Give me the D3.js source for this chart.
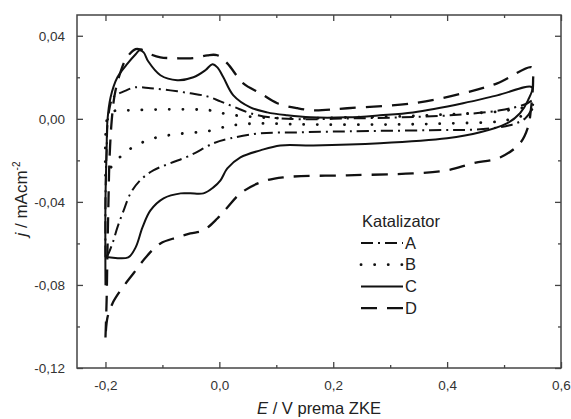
<!DOCTYPE html>
<html><head><meta charset="utf-8">
<script src="https://cdn.jsdelivr.net/npm/d3@7"></script>
<style>
body{margin:0;background:#fff;}
svg{display:block;font-family:"Liberation Sans",Arial,sans-serif;}
</style></head>
<body><svg id="c" width="571" height="419"></svg>
<script>
// ---- data (E / V vs ZKE, j / mA cm^-2) ----
const catalysts = ["A","B","C","D"];
const xTickValues = [-0.2,0.0,0.2,0.4,0.6];
const yTickValues = [-0.12,-0.08,-0.04,0.00,0.04];

// A (dash-dot)
const aE = [-0.2,-0.2,-0.198,-0.1947,-0.186,-0.1667,-0.147,-0.121,-0.086,-0.051,-0.021,0.0018,0.028,0.0544,0.0895,0.142,0.2298,0.3175,0.405,0.493,0.537,0.551,
            0.549,0.537,0.51,0.458,0.37,0.2298,0.142,0.072,0.0193,-0.0105,-0.051,-0.086,-0.116,-0.139,-0.156,-0.168,-0.179,-0.1877,-0.1965,-0.2];
const aJ = [-0.0667,-0.0393,-0.0152,0.0017,0.0104,0.0133,0.0152,0.0147,0.0137,0.0123,0.0108,0.0084,0.0055,0.0027,0.0007,-0.0002,0.0002,0.0007,0.0017,0.0041,0.007,0.0089,
            0.0051,0.0002,-0.0031,-0.005,-0.0055,-0.006,-0.0065,-0.007,-0.0094,-0.0118,-0.0176,-0.0214,-0.0248,-0.0296,-0.0359,-0.0441,-0.0523,-0.060,-0.0658,-0.0667];
// B (dotted)
const bE = [-0.2,-0.2,-0.1965,-0.186,-0.161,-0.0158,0.014,0.072,0.142,0.2298,0.3175,0.405,0.493,0.537,0.549,
            0.546,0.523,0.493,0.405,0.3175,0.142,0.072,0.037,0.014,-0.021,-0.063,-0.091,-0.116,-0.139,-0.165,-0.1877,-0.2];
const bJ = [-0.0272,-0.0104,0.0002,0.0036,0.0041,0.0041,0.0022,0.0007,0.0002,0.0007,0.0012,0.0022,0.0036,0.0055,0.006,
            0.0031,0.0007,-0.0012,-0.0022,-0.0027,-0.0027,-0.0022,-0.0027,-0.0036,-0.006,-0.007,-0.008,-0.0094,-0.0118,-0.0161,-0.0224,-0.0272];
// C (solid)
const cE = [-0.200,-0.200,-0.198,-0.1965,-0.191,-0.179,-0.161,-0.147,-0.140,-0.133,-0.125,-0.1035,-0.074,-0.0456,-0.0246,-0.0123,-0.0035,0.007,0.0246,0.0544,0.084,0.119,0.160,0.2246,0.282,0.340,0.428,0.488,0.549,
            0.542,0.528,0.505,0.458,0.400,0.282,0.165,0.107,0.072,0.037,0.014,0.002,-0.0105,-0.028,-0.051,-0.068,-0.098,-0.121,-0.135,-0.147,-0.160,-0.1947,-0.200];
const cJ = [-0.0802,-0.0393,-0.0152,-0.0007,0.0104,0.0200,0.0267,0.0311,0.0330,0.0320,0.0277,0.0210,0.0186,0.0200,0.0234,0.0263,0.0248,0.0200,0.0113,0.0055,0.0031,0.0017,0.0007,0.0007,0.0017,0.0031,0.0075,0.0113,0.0152,
            0.0089,0.0027,-0.0022,-0.0065,-0.0094,-0.0118,-0.0128,-0.0128,-0.0152,-0.0186,-0.0239,-0.0296,-0.0330,-0.0359,-0.0359,-0.0359,-0.0383,-0.0441,-0.0523,-0.0619,-0.0667,-0.0667,-0.0667];
// D (dashed)
const dE = [-0.2,-0.198,-0.1965,-0.1947,-0.193,-0.189,-0.184,-0.1754,-0.1632,-0.147,-0.138,-0.121,-0.1035,-0.077,-0.0456,-0.021,-0.0035,0.014,0.042,0.072,0.1018,0.137,0.165,0.2246,0.340,0.428,0.488,0.549,
            0.551,0.547,0.542,0.528,0.493,0.446,0.400,0.340,0.2246,0.112,0.072,0.037,0.014,-0.0035,-0.028,-0.051,-0.074,-0.1035,-0.1263,-0.151,-0.1737,-0.1877,-0.1965,-0.2];
const dJ = [-0.1053,-0.0875,-0.0634,-0.0393,-0.02,-0.0007,0.0113,0.021,0.0292,0.0336,0.0334,0.0311,0.0296,0.0292,0.0292,0.0306,0.0306,0.0267,0.0171,0.0123,0.0075,0.0051,0.0041,0.0051,0.0075,0.0123,0.0171,0.0248,
            0.0186,0.0041,-0.0041,-0.0118,-0.0186,-0.0214,-0.0248,-0.0263,-0.0272,-0.0282,-0.0306,-0.0359,-0.0427,-0.0480,-0.0537,-0.0552,-0.0571,-0.06,-0.0658,-0.0745,-0.0827,-0.0889,-0.0957,-0.1053];

// ---- layout ----
const L=77, R=561, T=15, B=368;
const svg = d3.select("#c");
const x = d3.scaleLinear().domain([-0.25,0.6]).range([L,R]);
const y = d3.scaleLinear().domain([-0.12,0.05]).range([B,T]);
const fx = d => d3.format(".1f")(d).replace(".",",").replace("−","-");
const fy = d => d3.format(".2f")(d).replace(".",",").replace("−","-");

const series = [
  {E:aE, J:aJ, dash:"12,5,2,5", w:2.0, cap:"butt"},
  {E:bE, J:bJ, dash:"0.1,13.5", w:2.8, cap:"round"},
  {E:cE, J:cJ, dash:null, w:2.0, cap:"butt"},
  {E:dE, J:dJ, dash:"16,10", w:2.3, cap:"butt"}
];
const line = d3.line().x(d=>x(d[0])).y(d=>y(d[1])).curve(d3.curveCatmullRom.alpha(0.5));
const g = svg.append("g");
series.forEach(s=>{
  const pts = s.E.map((e,i)=>[e,s.J[i]]);
  g.append("path").attr("d",line(pts)).attr("fill","none").attr("stroke","#111")
   .attr("stroke-width",s.w).attr("stroke-linecap",s.cap).attr("stroke-linejoin","round")
   .attr("stroke-dasharray",s.dash);
});

// ---- axes ----
const axCol="#444";
const xMinor=[-0.1,0.1,0.3,0.5], yMinor=[-0.10,-0.06,-0.02,0.02];
function styleAxis(sel){
  sel.select(".domain").remove();
  sel.selectAll("line").attr("stroke",axCol).attr("stroke-width",1.3);
  sel.selectAll("text").attr("fill","#333").style("font-size","13.5px");
}
svg.append("g").attr("transform",`translate(0,${B})`)
  .call(d3.axisBottom(x).tickValues(xTickValues).tickFormat(fx).tickSizeInner(-6).tickPadding(12)).call(styleAxis);
svg.append("g").attr("transform",`translate(0,${B})`)
  .call(d3.axisBottom(x).tickValues(xMinor).tickFormat("").tickSizeInner(-3)).call(styleAxis);
svg.append("g").attr("transform",`translate(0,${T})`)
  .call(d3.axisTop(x).tickValues(xTickValues).tickFormat("").tickSizeInner(-6)).call(styleAxis);
svg.append("g").attr("transform",`translate(0,${T})`)
  .call(d3.axisTop(x).tickValues(xMinor).tickFormat("").tickSizeInner(-3)).call(styleAxis);
svg.append("g").attr("transform",`translate(${L},0)`)
  .call(d3.axisLeft(y).tickValues(yTickValues).tickFormat(fy).tickSizeInner(-6).tickPadding(12)).call(styleAxis);
svg.append("g").attr("transform",`translate(${L},0)`)
  .call(d3.axisLeft(y).tickValues(yMinor).tickFormat("").tickSizeInner(-3)).call(styleAxis);
svg.append("g").attr("transform",`translate(${R},0)`)
  .call(d3.axisRight(y).tickValues(yTickValues).tickFormat("").tickSizeInner(-6)).call(styleAxis);
svg.append("g").attr("transform",`translate(${R},0)`)
  .call(d3.axisRight(y).tickValues(yMinor).tickFormat("").tickSizeInner(-3)).call(styleAxis);
svg.append("rect").attr("x",L).attr("y",T).attr("width",R-L).attr("height",B-T)
  .attr("fill","none").attr("stroke",axCol).attr("stroke-width",1.5);

// ---- titles ----
const xt = svg.append("text").attr("x",(L+R)/2).attr("y",414).attr("text-anchor","middle")
  .style("font-size","16.5px").attr("fill","#222");
xt.append("tspan").style("font-style","italic").text("E");
xt.append("tspan").text(" / V prema ZKE");
const yt = svg.append("text").attr("transform","translate(27,199) rotate(-90)").attr("text-anchor","middle")
  .style("font-size","17px").attr("fill","#222");
yt.append("tspan").style("font-style","italic").text("j");
yt.append("tspan").text(" / mAcm");
yt.append("tspan").attr("dy",-7).style("font-size","10px").text("-2");

// ---- legend ----
const lg = svg.append("g");
lg.append("text").attr("x",362).attr("y",227).style("font-size","16.5px").attr("fill","#222").text("Katalizator");
catalysts.forEach((c,i)=>{
  const yy = 243 + i*21.7;
  const s = series[i];
  lg.append("line").attr("x1",361).attr("x2",403).attr("y1",yy).attr("y2",yy)
    .attr("stroke","#111").attr("stroke-width",s.w).attr("stroke-linecap",s.cap)
    .attr("stroke-dasharray",s.dash);
  lg.append("text").attr("x",405).attr("y",yy+5.5).style("font-size","16.5px").attr("fill","#222").text(c);
});
</script></body></html>
